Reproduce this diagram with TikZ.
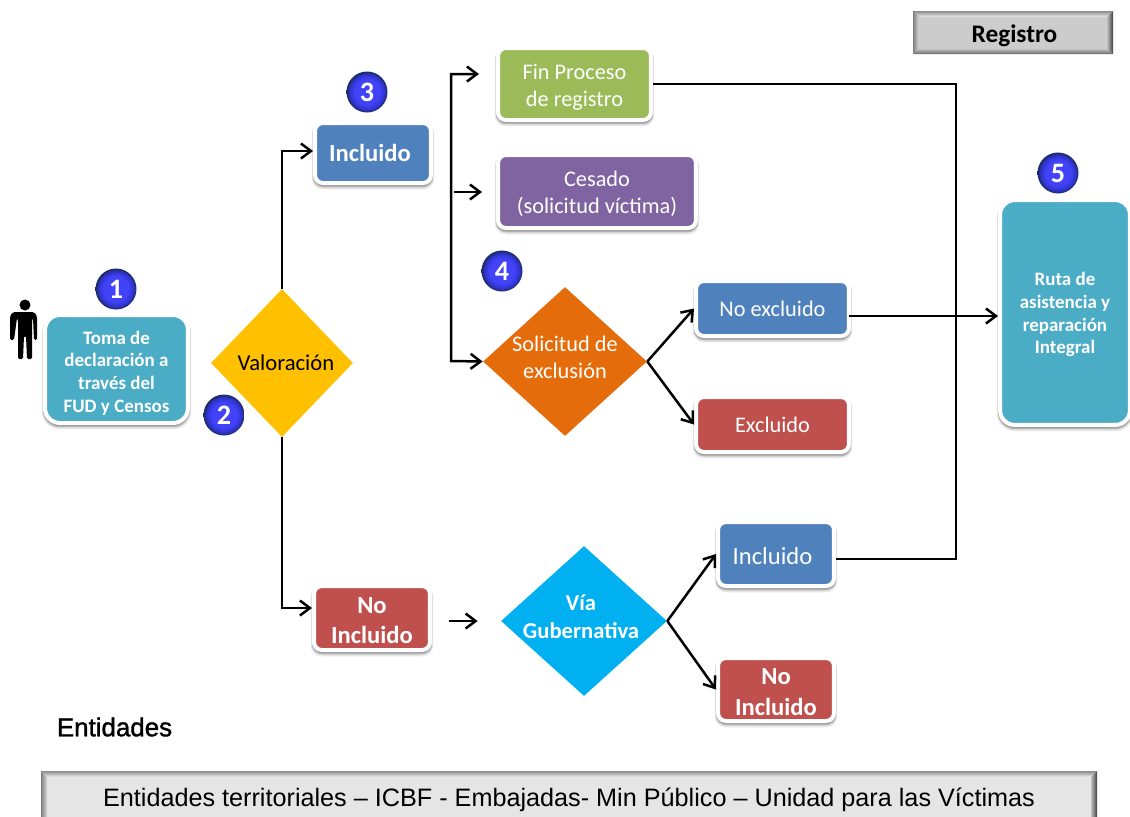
\documentclass[tikz,border=0pt]{standalone}
\usepackage{fontspec}
\setmainfont{Carlito}
\newfontfamily\arialfont{Liberation Sans}
\newfontfamily\arialbold[FakeBold=1.4]{Liberation Sans}
\usetikzlibrary{shapes.geometric,shadows,arrows.meta}
\definecolor{teal4}{HTML}{4BACC6}
\definecolor{blue4}{HTML}{4F81BD}
\definecolor{green4}{HTML}{9BBB59}
\definecolor{purple4}{HTML}{8064A2}
\definecolor{red4}{HTML}{C0504D}
\definecolor{yellow4}{HTML}{FFC000}
\definecolor{orange4}{HTML}{E46C0A}
\definecolor{cyan4}{HTML}{00B0F0}
\definecolor{ball1}{HTML}{4242F8}
\definecolor{ball2}{HTML}{3034D0}
\definecolor{ball3}{HTML}{1A2A5C}
\pgfdeclareradialshading{numball}{\pgfpoint{0bp}{0bp}}{color(0bp)=(ball1); color(15bp)=(ball1); color(21bp)=(ball2); color(25bp)=(ball3); color(50bp)=(ball3)}
\tikzset{
	x=0.02cm,y=-0.02cm,
	box/.style={draw=white,line width=0.08cm,rounded corners=0.16cm,text=white,align=center,inner sep=0pt,
		general shadow={shadow xshift=0pt,shadow yshift=-0.06cm,opacity=0.1,fill=black,draw=black,line width=0.13cm},
		general shadow={shadow xshift=0pt,shadow yshift=-0.04cm,opacity=0.22,fill=black,draw=black,line width=0.09cm}},
	rhomb/.style={diamond,aspect=1,inner sep=0pt},
	rhombtxt/.style={align=center,text=white},
	numdot/.style={circle,shading=numball,minimum size=0.82cm,inner sep=0pt,text=white,font=\fontsize{16}{16}\selectfont\bfseries},
	txtbig/.style={font=\fontsize{12.7}{15.4}\selectfont},
	txtbold/.style={font=\fontsize{10.8}{12.9}\selectfont\bfseries},
	txthead/.style={font=\fontsize{14}{17.6}\selectfont\bfseries},
	link/.style={-{Straight Barb[length=0.2cm,width=0.3cm]},line width=0.05cm,black},
	wire/.style={line width=0.05cm,black}
}
% pushes a label down (height of first line)
\newcommand{\lowr}[1]{\rule{0pt}{#1}}
% bevelled bar: x1,y1,x2,y2,face
\newcommand{\bevelbar}[5]{
	\fill[#5] (#1,#2) rectangle (#3,#4);
	\shade[top color=black!45,bottom color=black!8] (#1,#2) -- (#3,#2) -- ({#3-6},{#2+6}) -- ({#1+6},{#2+6}) -- cycle;
	\shade[left color=black!50,right color=black!15] (#1,#2) -- ({#1+6},{#2+6}) -- ({#1+6},{#4-5}) -- (#1,#4) -- cycle;
	\shade[left color=black!25,right color=black!75] (#3,#2) -- (#3,#4) -- ({#3-6},{#4-5}) -- ({#3-6},{#2+6}) -- cycle;
	\shade[top color=black!25,bottom color=black!60] (#1,#4) -- (#3,#4) -- ({#3-6},{#4-5}) -- ({#1+6},{#4-5}) -- cycle;
}
\begin{document}
\begin{tikzpicture}
	\clip (0,0) rectangle (1130,816);
	\fill[white] (0,0) rectangle (1130,816);

	% bars
	\bevelbar{913}{11}{1113}{54}{black!20}
	\node (registro) at (1014.5,36) {\fontsize{14.4}{15}\selectfont\bfseries Registro};
	\bevelbar{41}{771}{1097}{824}{black!10}
	\node (entbar) at (569,800) {\fontsize{14.35}{17}\selectfont\arialfont Entidades territoriales – ICBF - Embajadas- Min Público – Unidad para las Víctimas};
	\node (entidades) at (114.5,727) {\fontsize{14.75}{17}\selectfont\arialbold Entidades};

	% person
	\fill (25,305) circle (5.5);
	\fill[rounded corners=0.03cm] (13,312) -- (34,312) -- (37,316) -- (37,340) -- (34,340) -- (33,318) -- (32,320) -- (32,359) -- (27,359) -- (26,336) -- (24,336) -- (23,359) -- (18,359) -- (18,320) -- (17,318) -- (14,340) -- (10,340) -- (10,316) -- cycle;

	% boxes
	\node[box,rounded corners=0.3cm,fill=teal4,minimum width=2.86cm,minimum height=2.16cm,txtbold] (toma) at (116.5,369) {\lowr{12pt}Toma de\\declaración a\\través del\\FUD y Censos};
	\node[box,fill=blue4,minimum width=2.32cm,minimum height=1.2cm,txthead] (incl) at (373,153) {Incluido\hspace{0.12cm}};
	\node[box,fill=green4,minimum width=3.06cm,minimum height=1.44cm,txtbig] (fin) at (574.5,84) {\lowr{12pt}Fin Proceso\\de registro};
	\node[box,fill=purple4,minimum width=3.96cm,minimum height=1.46cm,txtbig] (cesado) at (597,191.5) {\lowr{11pt}Cesado\\(solicitud víctima)};
	\node[box,fill=blue4,minimum width=3.06cm,minimum height=1.1cm,txtbig] (noexcl) at (772.5,308.5) {No excluido};
	\node[box,fill=red4,minimum width=3.06cm,minimum height=1.1cm,txtbig] (excl) at (772.5,424.5) {Excluido};
	\node[box,fill=blue4,minimum width=2.32cm,minimum height=1.28cm,font=\fontsize{14}{17}\selectfont] (inclb) at (776,554) {\lowr{12pt}Incluido\hspace{0.14cm}};
	\node[box,fill=red4,minimum width=2.32cm,minimum height=1.26cm,txthead] (noinclb) at (776,689.5) {\lowr{12pt}No\\Incluido};
	\node[box,fill=red4,minimum width=2.32cm,minimum height=1.28cm,txthead] (noincl) at (372,618) {\lowr{12pt}No\\Incluido};
	\node[box,rounded corners=0.3cm,fill=teal4,minimum width=2.6cm,minimum height=4.5cm,txtbold] (ruta) at (1065,312.5) {\lowr{10pt}Ruta de\\asistencia y\\reparación\\Integral};

	% decisions
	\node[rhomb,fill=yellow4,minimum width=2.84cm,minimum height=2.96cm] (val) at (282,363) {};
	\node[rhombtxt,text=black,font=\fontsize{12.9}{15.4}\selectfont] (valtxt) at (286,363) {Valoración};
	\node[rhomb,fill=orange4,minimum width=3.28cm,minimum height=2.98cm] (sol) at (565,361.5) {};
	\node[rhombtxt,txtbig] (soltxt) at (565,357) {Solicitud de\\exclusión};
	\node[rhomb,fill=cyan4,minimum width=3.32cm,minimum height=3cm] (via) at (584,621) {};
	\node[rhombtxt,font=\fontsize{12.9}{16}\selectfont\bfseries] (viatxt) at (581,617) {Vía\\Gubernativa};

	% numbers
	\node[numdot] (n1) at (116,289) {1};
	\node[numdot] (n2) at (224,415) {2};
	\node[numdot] (n3) at (367,92) {3};
	\node[numdot] (n4) at (502,271) {4};
	\node[numdot] (n5) at (1058,173) {5};

	% free ends
	\coordinate (fintip) at (479,74);
	\coordinate (brtop) at (451,74);
	\coordinate (brbot) at (451,361);
	\coordinate (cestail) at (454,192);
	\coordinate (rutatail) at (849,316);
	\coordinate (nitail) at (449,621);
	\coordinate (finturn) at (956,84);
	\coordinate (inclturn) at (956,559);

	% connectors
	\draw[link] (val.north) |- ([yshift=0.04cm]incl.west);
	\draw[link] (val.south) |- ([yshift=0.2cm]noincl.west);
	\draw[link,{Straight Barb[length=0.2cm,width=0.3cm]}-{Straight Barb[length=0.2cm,width=0.3cm]}] (fintip) -- (brtop) -- (brbot) -- (sol.west);
	\draw[link,shorten >=0.28cm] (cestail) -- (cestail -| cesado.west);
	\draw[link] (sol.east) -- (noexcl.west);
	\draw[link] (sol.east) -- (excl.west);
	\draw[link] (rutatail) -- (rutatail -| ruta.west);
	\draw[link,shorten >=0.46cm] (nitail) -- (via.west);
	\draw[link] (via.east) -- (inclb.west);
	\draw[link] (via.east) -- (noinclb.west);
	\draw[wire,line join=miter] (fin.east) -- (finturn) -- (inclturn) -- (inclturn -| inclb.east);
\end{tikzpicture}
\end{document}
